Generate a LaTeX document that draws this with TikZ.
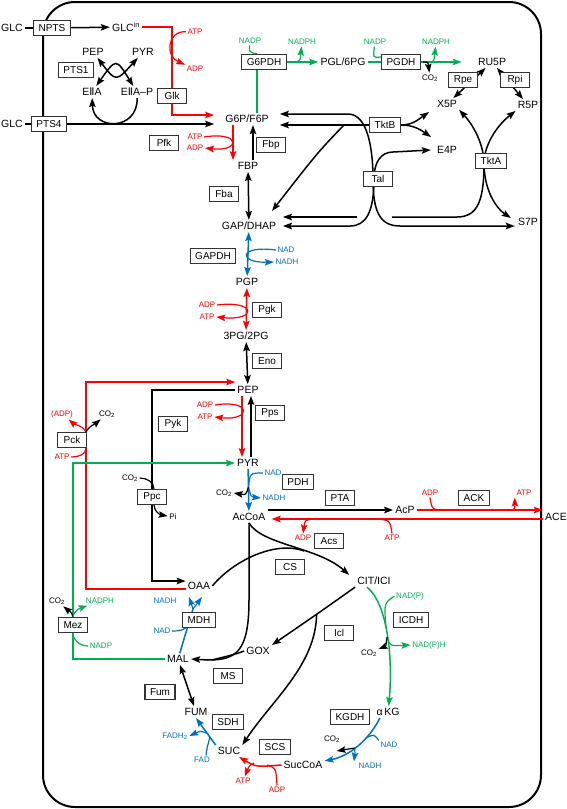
\documentclass[tikz,border=0pt]{standalone}
\usepackage{fontspec}
\setmainfont{Liberation Sans}
\newfontfamily\djv{DejaVu Sans}
\usetikzlibrary{arrows.meta, backgrounds}
\definecolor{rxred}{RGB}{255,0,0}
\definecolor{rxgreen}{RGB}{0,176,80}
\definecolor{rxblue}{RGB}{0,112,192}
\newcommand{\cotwo}{CO\textsubscript{2}}

\begin{document}
\begin{tikzpicture}[x=1pt, y=-1pt, line width=1.5pt, >={Stealth[length=9pt,width=6.5pt,inset=1.5pt]},
    met/.style={inner sep=1.5pt, font=\fontsize{10.5}{12}\selectfont},
    enz/.style={draw=black!80, line width=1.2pt, fill=white, inner xsep=5pt, inner ysep=0pt,
        minimum height=15pt, minimum width=29pt, font=\fontsize{10}{12}\selectfont},
    cof/.style={inner sep=1pt, font=\fontsize{8}{9}\selectfont},
    cr/.style={cof, text=rxred}, cg/.style={cof, text=rxgreen}, cb/.style={cof, text=rxblue},
    rx/.style={line width=1.5pt}, co/.style={line width=1.2pt}]
\useasboundingbox (0,0) rectangle (567,809);

% metabolites
\node [met] (glc1) at (12,28) {GLC};
\node [met] (glcin) at (126,27) {GLC\textsuperscript{in}};
\node [met] (pep0) at (93,52) {PEP};
\node [met] (pyr0) at (143,52) {PYR};
\node [met] (eiia) at (92,92) {E{\djv Ⅱ}A};
\node [met] (eiiap) at (137,92) {E{\djv Ⅱ}A–P};
\node [met] (glc2) at (12,124) {GLC};
\node [met] (g6p) at (247,119) {G6P/F6P};
\node [met] (pgl) at (343,62) {PGL/6PG};
\node [met] (ru5p) at (492,62) {RU5P};
\node [met] (x5p) at (447,104) {X5P};
\node [met] (r5p) at (528,105) {R5P};
\node [met] (e4p) at (447,150) {E4P};
\node [met] (s7p) at (528,222) {S7P};
\node [met] (fbp) at (248,166) {FBP};
\node [met] (gap) at (249,226) {GAP/DHAP};
\node [met] (pgp) at (247,282) {PGP};
\node [met] (pg3) at (246,336) {3PG/2PG};
\node [met] (pep) at (248,390) {PEP};
\node [met] (pyr) at (248,463) {PYR};
\node [met] (accoa) at (249,517) {AcCoA};
\node [met] (acp) at (405,510) {AcP};
\node [met] (ace) at (556,517) {ACE};
\node [met] (cit) at (374,581) {CIT/ICI};
\node [met] (oaa) at (199,586) {OAA};
\node [met] (mal) at (178,659) {MAL};
\node [met] (gox) at (258,651) {GOX};
\node [met] (fum) at (196,712) {FUM};
\node [met] (suc) at (229,751) {SUC};
\node [met] (succoa) at (303,765) {SucCoA};
\node [met] (akg) at (388,712) {α\,KG};

% enzymes
\node [enz] (npts) at (52,28) {NPTS};
\node [enz] (pts1) at (76,70) {PTS1};
\node [enz] (pts4) at (49,124) {PTS4};
\node [enz] (glk) at (172,96) {Glk};
\node [enz] (g6pdh) at (264,62) {G6PDH};
\node [enz] (pgdh) at (401,62) {PGDH};
\node [enz] (rpe) at (463,80) {Rpe};
\node [enz] (rpi) at (515,80) {Rpi};
\node [enz] (tktb) at (385,125) {TktB};
\node [enz] (tal) at (378,179) {Tal};
\node [enz] (tkta) at (491,161) {TktA};
\node [enz] (pfk) at (164,143) {Pfk};
\node [enz] (fbpase) at (271,145) {Fbp};
\node [enz] (fba) at (224,194) {Fba};
\node [enz] (gapdh) at (213,256) {GAPDH};
\node [enz] (pgk) at (267,310) {Pgk};
\node [enz] (eno) at (267,361) {Eno};
\node [enz] (pck) at (72,440) {Pck};
\node [enz] (pyk) at (173,424) {Pyk};
\node [enz] (pps) at (270,413) {Pps};
\node [enz] (ppc) at (152,497) {Ppc};
\node [enz] (pdh) at (298,482) {PDH};
\node [enz] (pta) at (340,498) {PTA};
\node [enz] (ack) at (474,498) {ACK};
\node [enz] (acs) at (329,541) {Acs};
\node [enz] (cs) at (290,567) {CS};
\node [enz] (mez) at (73,625) {Mez};
\node [enz] (mdh) at (199,620) {MDH};
\node [enz] (ms) at (228,676) {MS};
\node [enz] (icl) at (339,633) {Icl};
\node [enz] (icdh) at (411,620) {ICDH};
\node [enz] (fumase) at (160,692) {Fum};
\node [enz] (sdh) at (228,722) {SDH};
\node [enz] (scs) at (275,747) {SCS};
\node [enz] (kgdh) at (350,717) {KGDH};

% cofactors
\node [cr] (atp1) at (195,32) {ATP};
\node [cr] (adp1) at (195,69) {ADP};
\node [cg] (nadp1) at (250,41) {NADP};
\node [cg] (nadph1) at (302,42) {NADPH};
\node [cg] (nadp2) at (375,42) {NADP};
\node [cg] (nadph2) at (436,42) {NADPH};
\node [cof] (co2a) at (430,78) {\cotwo};
\node [cr] (atp2) at (195,137) {ATP};
\node [cr] (adp2) at (195,148) {ADP};
\node [cb] (nad1) at (286,250) {NAD};
\node [cb] (nadh1) at (287,262) {NADH};
\node [cr] (adp3) at (207,305) {ADP};
\node [cr] (atp3) at (207,317) {ATP};
\node [cr] (adp4) at (205,405) {ADP};
\node [cr] (atp4) at (205,417) {ATP};
\node [cr] (adp5) at (62,414) {(ADP)};
\node [cof] (co2b) at (107,414) {\cotwo};
\node [cr] (atp5) at (62,457) {ATP};
\node [cof] (co2c) at (130,478) {\cotwo};
\node [cof] (phos) at (173,517) {Pi};
\node [cb] (nad2) at (273,473) {NAD};
\node [cb] (nadh2) at (274,498) {NADH};
\node [cof] (co2d) at (224,493) {\cotwo};
\node [cr] (adp6) at (430,493) {ADP};
\node [cr] (atp6) at (524,493) {ATP};
\node [cr] (adp7) at (303,538) {ADP};
\node [cr] (atp7) at (392,538) {ATP};
\node [cof] (co2e) at (57,601) {\cotwo};
\node [cg] (nadph3) at (100,601) {NADPH};
\node [cg] (nadp3) at (101,646) {NADP};
\node [cb] (nadh3) at (165,601) {NADH};
\node [cb] (nad3) at (162,631) {NAD};
\node [cg] (nadp4) at (410,596) {NAD(P)};
\node [cg] (nadph4) at (429,645) {NAD(P)H};
\node [cof] (co2f) at (369,653) {\cotwo};
\node [cb] (nad4) at (389,745) {NAD};
\node [cb] (nadh4) at (370,766) {NADH};
\node [cof] (co2g) at (332,739) {\cotwo};
\node [cb] (fadh) at (175,736) {FADH\textsubscript{2}};
\node [cb] (fad) at (202,760) {FAD};
\node [cr] (atp8) at (243,781) {ATP};
\node [cr] (adp8) at (277,790) {ADP};

% ports and junctions
\coordinate (g6pin1) at ([xshift=9pt,yshift=5pt]g6p.east);
\coordinate (g6pin2) at ([xshift=9pt,yshift=-5pt]g6p.east);
\coordinate (gapin0) at (272,211);
\coordinate (gapin1) at ([xshift=4.5pt,yshift=9pt]gap.east);
\coordinate (gapin2) at ([xshift=4.5pt]gap.east);
\coordinate (s7pin1) at ([xshift=-5pt,yshift=4pt]s7p.west);
\coordinate (s7pin2) at ([xshift=-1pt,yshift=-4pt]s7p.west);
\coordinate (x5pin) at (429,112);
\coordinate (e4pin1) at (431,137);
\coordinate (e4pin2) at ([xshift=-4pt]e4p.west);
\coordinate (tktbfork) at (344,125);
\coordinate (mdhfork) at (193,609);
\coordinate (iclfork) at (316.6,614);
\coordinate (icdhin) at (386,628);
\coordinate (icdhout) at (387,637);
\coordinate (kgdhin) at (366,738);
\coordinate (kgdhout) at (354.6,748);
\coordinate (sdhin) at (210,737);
\coordinate (sdhout) at (207,733);
\coordinate (scsin) at (267,765);
\coordinate (scsout) at (254,763);
\coordinate (pdhin) at (248.5,487);
\coordinate (msbend) at (249,600);

\begin{pgfonlayer}{background}
\begin{scope}[every path/.style={rx}]
\draw [line width=2pt, rounded corners=32pt] (43,2) rectangle (541,807);

% PTS
\draw (glc1) -- (npts);
\draw [->] (npts) -- (glcin);
\draw (glc2) -- (pts4);
\draw [->] (pts4) -- ([xshift=-9pt,yshift=-5pt]g6p.west);
\draw [<->] (pep0) .. controls (116,82) .. (pyr0);
\draw [<->] (eiia) .. controls (116,58) .. (eiiap);
\draw [->] (eiiap) .. controls (138,131) and (93,131) .. (eiia);

% Glk
\draw [rxred, ->] (glcin) -| (glk.center) |- ([xshift=-9pt,yshift=4pt]g6p.west);
\draw [rxred, co, ->] (atp1) .. controls (167,31) and (165,56) .. (adp1);

% pentose phosphate
\draw [rxgreen] ([xshift=10pt]g6p.north) |- (g6pdh);
\draw [rxgreen, ->] (g6pdh) -- (pgl);
\draw [rxgreen, co] (nadp1) .. controls (249,52) .. ([xshift=-7pt]g6pdh.north);
\draw [rxgreen, co, ->] ([xshift=3pt]g6pdh.east) .. controls (300,62) .. (nadph1);
\draw [rxgreen] (pgl) -- (pgdh);
\draw [rxgreen, ->] (pgdh) -- ([xshift=-14pt]ru5p.west);
\draw [rxgreen, co] (nadp2) .. controls (373,58) .. ([yshift=-3pt]pgdh.north west);
\draw [rxgreen, co, ->] ([xshift=6pt]pgdh.east) .. controls (434,62) .. (nadph2);
\draw [co, ->] ([xshift=2pt]pgdh.east) .. controls (428,62) .. (co2a);
\draw [<->] (ru5p) -- (x5p);
\draw [<->] (ru5p) -- (r5p);

\draw [->] (tktb) -- (tktb -| g6pin2);
\draw [->] (tktbfork) .. controls (318,152) .. (gapin0);
\draw [->] (tktb.east) to[out=0, in=-145] (x5pin);
\draw [->] (tktb.east) to[out=0, in=145] (e4pin1);

\draw [<->] (g6pin1) -- (348,114) .. controls (368,114) and (373,150) .. (373,179)
    .. controls (373,212) and (380,226) .. (400,226) -- (s7pin2);
\draw [<->] (e4pin2) -- (393,152) .. controls (381,152) and (374,162) .. (374,179)
    .. controls (374,212) and (366,226) .. (350,226) -- (gapin2);

\draw [<->] (x5p.south east) .. controls (476,128) and (484,148) .. (484,163)
    .. controls (484,190) and (496,208) .. (s7pin1);
\draw [<-] (r5p.south west) .. controls (494,128) and (484,148) .. (484,163)
    .. controls (484,200) and (478,217) .. (457,217) -- (392,217);
\draw [->] (357,217) -- (gapin1);

% glycolysis
\draw [rxred, ->] ([xshift=-14pt]g6p.south) -- ([xshift=-15pt]fbp.north);
\draw [rxred, co, ->] (atp2.east) .. controls (241,131) and (241,152) .. (adp2.east);
\draw [->] ([xshift=5pt]fbp.north) -- ([xshift=6pt]g6p.south);
\draw [<->] (fbp) -- (gap);
\draw [rxblue, <->] (gap) -- (pgp);
\draw [rxblue, co, ->] (nad1.west) .. controls (238,245) and (238,263) .. (nadh1.west);
\draw [rxred, <->] (pgp) -- (pg3);
\draw [rxred, co, ->] (adp3.east) .. controls (257,300) and (257,321) .. (atp3.east);
\draw [<->] (pg3) -- (pep);
\draw [rxred, ->] ([xshift=-6pt]pep.south) -- ([xshift=-6pt]pyr.north);
\draw [rxred, co, ->] (adp4.east) .. controls (252,399) and (252,421) .. (atp4.east);
\draw [->] ([xshift=3pt]pyr.north) -- ([xshift=3pt]pep.south);

% anaplerotic
\draw [rxred, ->] ([yshift=-3pt]oaa.west) -| ([xshift=14pt]pck.center) |- ([yshift=8pt]pep.west);
\draw [rxred, co, ->] ([xshift=14pt]pck.north) to[out=120, in=-40] (adp5);
\draw [co, ->] ([xshift=14pt]pck.north) to[out=60, in=-140] (co2b);
\draw [rxred, co] (atp5) to[out=0, in=-90] ([xshift=14pt]pck.south);
\draw [->] (pep.west) -| (ppc.center) |- ([yshift=5pt]oaa.west);
\draw [co] (co2c) to[out=0, in=90] ([xshift=2pt]ppc.north);
\draw [co, ->] ([xshift=2pt]ppc.south) to[out=-90, in=170] (phos);
\draw [rxgreen, ->] (mal.west) -| (mez.center) |- (pyr.west);
\draw [co, ->] (mez.north) to[out=100, in=-40] (co2e);
\draw [rxgreen, co, ->] (mez.north) to[out=80, in=-160] (nadph3);
\draw [rxgreen, co] (mez.south) to[out=-90, in=180] (nadp3);

% PDH, PTA, ACK, Acs
\draw [rxblue, ->] (pyr) -- (accoa);
\draw [rxblue, co] (nad2.west) .. controls (250,473) .. (pdhin);
\draw [rxblue, co, ->] (pdhin) .. controls (251,497) .. (nadh2.west);
\draw [co, ->] (pdhin) .. controls (246,495) .. (co2d.east);
\draw [->] (accoa.east |- acp.west) -- (acp.west);
\draw [rxred, ->] (acp.east) -- (acp.east -| ace.west);
\draw [rxred, co] (adp6.south) .. controls (432,510) .. (446,510);
\draw [rxred, co, ->] (504,510) .. controls (515,510) .. (atp6.south west);
\draw [rxred, ->] ([yshift=-2pt]ace.west) -- ([yshift=-2pt,xshift=4pt]accoa.east);
\draw [rxred, co, ->] (313,519) .. controls (305,520) .. (adp7.north);
\draw [rxred, co] (atp7.north) .. controls (390,520) .. (376,519);

% TCA and glyoxylate
\draw [->] (accoa.south) .. controls (262,545) and (318,547) .. ([xshift=-6pt]cit.north west);
\draw (oaa.east) .. controls (232,562) and (274,540) .. (304,551);
\draw [->] (accoa.south) -- (msbend) .. controls (249,652) and (236,660) .. (208,660) -- (mal.east);
\draw (gox.west) .. controls (236,654) .. (212,660);
\draw [->] (cit.south west) .. controls (320,612) .. (gox.north east);
\draw [->] (iclfork) .. controls (316,665) and (272,700) .. (suc.north east);

\draw [rxgreen, ->] ([xshift=-7pt]cit.south) .. controls (388,604) and (393,660) .. (akg);
\draw [rxgreen, co] (nadp4.west) .. controls (384,603) .. (icdhin);
\draw [rxgreen, co, ->] (icdhout) .. controls (390,646) .. (nadph4.west);
\draw [co, ->] (icdhout) .. controls (386,646) .. (co2f);

\draw [rxblue, ->] ([xshift=-8pt]akg.south) .. controls (366,745) and (345,757) .. (succoa);
\draw [rxblue, co] (nad4.north west) .. controls (374,734) .. (kgdhin);
\draw [rxblue, co, ->] (kgdhout) .. controls (355,753) .. ([xshift=-3pt]nadh4.north west);
\draw [co, ->] (kgdhout) -- ++(-18,3);

\draw [rxred, ->] (succoa.west) .. controls (256,767) .. (suc);
\draw [rxred, co, ->] (scsout) .. controls (249,766) .. (atp8);
\draw [rxred, co] (adp8.north) .. controls (276,768) .. (scsin);

\draw [rxblue, ->] (suc.north west) -- (fum.south);
\draw [rxblue, co, ->] (sdhout) .. controls (200,731) .. (fadh.east);
\draw [rxblue, co] ([xshift=4pt]fad.north) .. controls (207,748) .. (sdhin);
\draw [<->] (mal) -- (fum);

\draw [rxblue] (mal) -- (mdhfork);
\draw [rxblue, co, ->] (mdhfork) -- ++(9,-12);
\draw [rxblue, co, ->] (mdhfork) -- ++(-4,-12);
\draw [rxblue, co] (nad3) to[out=0, in=-105] (188,624);
\end{scope}
\end{pgfonlayer}
\end{tikzpicture}
\end{document}
